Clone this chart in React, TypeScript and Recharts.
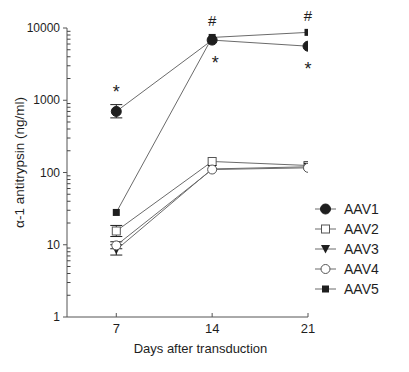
import React from "react";
import { LineChart, Line, XAxis, YAxis, ErrorBar, Legend, LabelList } from "recharts";

// days after transduction
const days = [7, 14, 21];

// alpha-1 antitrypsin, ng/ml
const aav1 = [700, 6800, 5600];
const aav2 = [15.5, 142, 125];
const aav3 = [8.5, 112, 120];
const aav4 = [9.8, 110, 116];
const aav5 = [28, 7400, 8700];

// error bars [down, up], null where too small to see
const aav1Err = [[130, 170], null, null];
const aav2Err = [[2.5, 3], null, null];
const aav3Err = [[1.3, 1.5], null, null];
const aav4Err = [[1, 1.2], null, null];

// significance marks
const aav1Notes = ["*", "*", "*"];
const aav1NoteSide = ["above", "below", "below"];
const aav5Notes = ["", "#", "#"];

const majorTicks = [1, 10, 100, 1000, 10000];
const minorTicks = [2, 3, 4, 5, 6, 7, 8, 9, 20, 30, 40, 50, 60, 70, 80, 90, 200, 300, 400, 500, 600, 700, 800, 900, 2000, 3000, 4000, 5000, 6000, 7000, 8000, 9000];
const allTicks = [...majorTicks, ...minorTicks].sort((a, b) => a - b);

const seriesNames = ["AAV1", "AAV2", "AAV3", "AAV4", "AAV5"];

const data = days.map((d, i) => ({
  day: d,
  aav1: aav1[i],
  aav2: aav2[i],
  aav3: aav3[i],
  aav4: aav4[i],
  aav5: aav5[i],
  aav1Err: aav1Err[i],
  aav2Err: aav2Err[i],
  aav3Err: aav3Err[i],
  aav4Err: aav4Err[i],
  aav1Note: aav1Notes[i],
  aav5Note: aav5Notes[i],
}));

const INK = "#1e1e1e";
const LINE = "#6b6b6b";
const AXIS = "#555";
const FONT = "'Liberation Sans', Arial, sans-serif";

function marker(name: string, cx: number, cy: number, key?: any) {
  switch (name) {
    case "AAV1":
      return <circle key={key} cx={cx} cy={cy} r={5} fill={INK} stroke={INK} />;
    case "AAV2":
      return <rect key={key} x={cx - 4} y={cy - 4} width={8} height={8} fill="#fff" stroke="#555" strokeWidth={1} />;
    case "AAV3":
      return <polygon key={key} points={`${cx - 4.5},${cy - 4} ${cx + 4.5},${cy - 4} ${cx},${cy + 4.5}`} fill={INK} />;
    case "AAV4":
      return <circle key={key} cx={cx} cy={cy} r={4.5} fill="#fff" stroke="#555" strokeWidth={1} />;
    default:
      return <rect key={key} x={cx - 3.5} y={cy - 3.5} width={7} height={7} fill={INK} />;
  }
}

const dotFor = (name: string) => (p: any) => marker(name, p.cx, p.cy, `${name}-${p.index}`);

// y tick: major ticks point out with a label, minor ticks point in
// (tickSize/tickMargin are 0, so p.x sits on the axis line)
const renderYTick = (p: any) => {
  const v = Number(p.payload.value);
  const axisX = p.x;
  if (majorTicks.includes(v)) {
    return (
      <g key={`yt-${v}`}>
        <line x1={axisX - 4} x2={axisX} y1={p.y} y2={p.y} stroke={AXIS} />
        <text x={axisX - 7} y={p.y + 4} textAnchor="end" fontSize={12} fontFamily={FONT} fill={INK}>
          {v}
        </text>
      </g>
    );
  }
  return (
    <g key={`yt-${v}`}>
      <line x1={axisX} x2={axisX + 3.5} y1={p.y} y2={p.y} stroke="#444" strokeWidth={1} />
    </g>
  );
};

const renderAav1Note = (p: any) => {
  const side = aav1NoteSide[p.index];
  const y = side === "above" ? p.y - 13 : p.y + 29;
  const dx = side === "below" && p.index === 1 ? 3 : 0;
  return (
    <text key={`n1-${p.index}`} x={p.x + dx} y={y} textAnchor="middle" fontSize={18} fontFamily={FONT} fill={INK}>
      {p.value}
    </text>
  );
};

const renderAav5Note = (p: any) => {
  if (!p.value) return null;
  return (
    <text key={`n5-${p.index}`} x={p.x} y={p.y - 11} textAnchor="middle" fontSize={15} fontFamily={FONT} fill={INK}>
      {p.value}
    </text>
  );
};

const renderLegend = (props: any) => (
  <svg width={80} height={100}>
    {(props.payload || []).map((entry: any, i: number) => {
      const cy = 9 + i * 20;
      return (
        <g key={entry.value}>
          <line x1={1} x2={22} y1={cy} y2={cy} stroke={LINE} strokeWidth={1} />
          {marker(entry.value, 11.5, cy)}
          <text x={30} y={cy + 5} fontSize={14} fontFamily={FONT} fill={INK}>
            {entry.value}
          </text>
        </g>
      );
    })}
  </svg>
);

export default function App() {
  const keys = ["aav1", "aav2", "aav3", "aav4", "aav5"];
  return (
    <div style={{ position: "absolute", left: 0, top: 0, width: 409, height: 372, background: "#fff" }}>
      <LineChart width={409} height={372} data={data} margin={{ top: 28, right: 101, bottom: 25, left: 17 }}>
        <XAxis
          dataKey="day"
          type="number"
          domain={[3.4, 21]}
          ticks={days}
          allowDataOverflow
          tickSize={-4}
          tickMargin={11}
          stroke={AXIS}
          tick={{ fill: INK, fontSize: 13, fontFamily: FONT }}
          height={30}
          label={{ value: "Days after transduction", position: "insideBottom", offset: -6, dx: 13, fill: INK, fontSize: 13, fontFamily: FONT }}
        />
        <YAxis
          scale="log"
          domain={[1, 10000]}
          ticks={allTicks}
          interval={0}
          allowDataOverflow
          width={50}
          tickSize={0}
          tickMargin={0}
          tickLine={false}
          stroke={AXIS}
          tick={renderYTick}
          label={{ value: "\u03b1-1 antitrypsin  (ng/ml)", angle: -90, position: "insideLeft", offset: 2, dy: -10, style: { textAnchor: "middle", whiteSpace: "pre" }, fill: INK, fontSize: 13.5, fontFamily: FONT }}
        />
        <Legend
          layout="vertical"
          align="center"
          verticalAlign="middle"
          wrapperStyle={{ left: 314, top: 200, width: 80 }}
          content={renderLegend}
        />
        {keys.map((k, i) => (
          <Line
            key={k}
            dataKey={k}
            name={seriesNames[i]}
            stroke={LINE}
            strokeWidth={1}
            dot={dotFor(seriesNames[i])}
            activeDot={false}
            isAnimationActive={false}
          >
            {k !== "aav5" && (
              <ErrorBar dataKey={`${k}Err`} width={6} stroke={INK} strokeWidth={1} direction="y" />
            )}
            {k === "aav1" && <LabelList dataKey="aav1Note" content={renderAav1Note} />}
            {k === "aav5" && <LabelList dataKey="aav5Note" content={renderAav5Note} />}
          </Line>
        ))}
      </LineChart>
    </div>
  );
}
